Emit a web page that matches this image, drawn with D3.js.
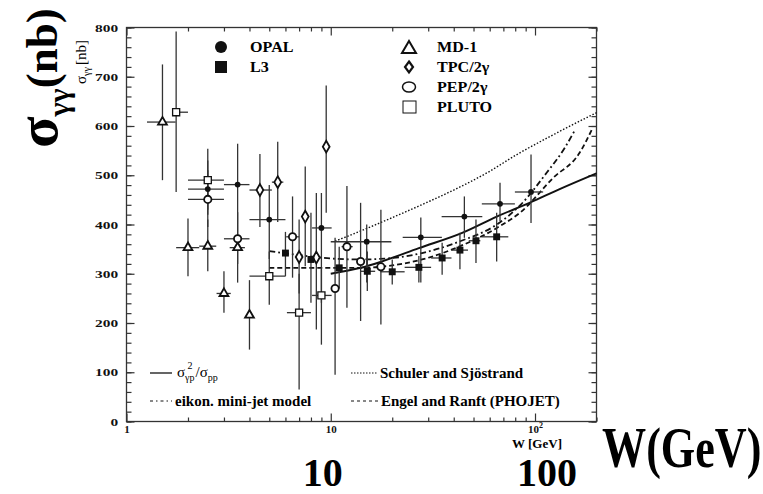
<!DOCTYPE html>
<html>
<head>
<meta charset="utf-8">
<script src="https://cdn.jsdelivr.net/npm/d3@7"></script>
</head>
<body style="margin:0;background:#fff">
<script>
// rows: W, sigma, sigma low, sigma high, W low, W high  (null = no horizontal bar)
const opal = [
  [2.5, 472, 420, 530, 2.0, 3.0],
  [3.5, 481, 400, 564, 3.0, 4.0],
  [5.0, 410, 330, 480, 4.0, 6.0],
  [9.0, 393, 241, 464, 8.1, 10.1],
  [15.0, 365, 282, 400, 10.0, 19.8],
  [27.6, 374, 282, 414, 22.5, 35.0],
  [45.1, 416, 373, 457, 34.9, 55.2],
  [67.4, 442, 407, 485, 54.9, 79.7],
  [95.6, 466, 403, 542, 79.7, 109.6]
];
const l3 = [
  [6.0, 342, 295, 385, null, null],
  [8.0, 329, 241, 424, null, null],
  [11.0, 312, 270, 355, null, null],
  [15.1, 305, 265, 345, 14.0, 16.5],
  [20.0, 304, 278, 329, 17.5, 23.0],
  [27.0, 313, 282, 336, 23.0, 31.0],
  [35.1, 332, 298, 363, 31.0, 39.0],
  [42.9, 348, 309, 383, 39.0, 47.0],
  [51.4, 367, 322, 410, 47.4, 54.0],
  [64.9, 375, 325, 424, 55.0, 74.0]
];
const md1 = [
  [1.5, 608, 490, 725, 1.26, 1.74],
  [2.0, 353, 295, 412, 1.75, 2.27],
  [2.5, 356, 305, 410, 2.27, 2.75],
  [3.0, 260, 221, 305, 2.76, 3.24],
  [3.5, 353, 282, 400, 3.2, 3.8],
  [4.0, 216, 146, 287, 3.85, 4.15]
];
const tpc = [
  [4.5, 470, 395, 543, 4.0, 5.15],
  [5.5, 486, 405, 568, 5.15, 5.86],
  [7.5, 416, 315, 518, null, null],
  [9.5, 558, 424, 682, null, null],
  [7.0, 334, 260, 410, null, null],
  [8.5, 333, 187, 464, 8.05, 9.0]
];
const pep = [
  [2.5, 451, 395, 510, 2.0, 3.0],
  [3.5, 371, 320, 425, 3.0, 4.0],
  [6.5, 375, 292, 457, 6.05, 7.0],
  [10.5, 270, 95, 373, null, null],
  [12.0, 355, 231, 478, 11.3, 12.8],
  [14.0, 325, 204, 444, null, null],
  [17.6, 314, 197, 430, null, null]
];
const pluto = [
  [1.75, 628, 466, 792, 1.68, 2.0],
  [2.5, 490, 430, 554, 2.0, 3.0],
  [5.0, 295, 237, 345, 4.0, 6.0],
  [7.0, 221, 65, 300, 6.1, 8.0],
  [9.0, 256, 156, 309, 8.1, 10.1]
];

// model curves
const ratioW = [10, 14, 17.5, 27, 44, 65, 94, 132, 200];
const ratioS = [300, 312, 324, 352, 383, 416, 444, 472, 504];
const schulerW = [10.5, 15, 20, 30, 40, 60, 80, 120, 200];
const schulerS = [366, 392, 414, 446, 470, 508, 540, 580, 627];
const eikonW = [5, 7, 10, 14, 20, 28, 43, 65, 85, 114, 140, 156];
const eikonS = [346, 338, 331, 329, 332, 342, 366, 400, 440, 505, 556, 590];
const phojetW = [5, 7, 10, 14, 20, 28, 43, 65, 85, 123, 165, 190];
const phojetS = [312, 312, 312, 312, 317, 329, 356, 393, 425, 495, 545, 593];

const yTicks = [0, 100, 200, 300, 400, 500, 600, 700, 800];
const xTicks = [1, 10, 100];
const xMinor = [2, 3, 4, 5, 6, 7, 8, 9, 20, 30, 40, 50, 60, 70, 80, 90, 200];

const serif = '"Liberation Serif", "Times New Roman", serif';
const width = 763, height = 494;
const x = d3.scaleLog().domain([1, 200]).range([126.5, 596.5]);
const y = d3.scaleLinear().domain([0, 800]).range([421.5, 27.5]);

const svg = d3.select('body').append('svg').attr('width', width).attr('height', height);

// frame
svg.append('rect')
  .attr('x', x(1)).attr('y', y(800))
  .attr('width', x(200) - x(1)).attr('height', y(0) - y(800))
  .attr('fill', 'none').attr('stroke', '#333').attr('stroke-width', 1.3);

const styleAxis = g => {
  g.select('.domain').remove();
  g.selectAll('line').attr('stroke', '#333').attr('stroke-width', 1.2);
};
const styleLabels = g => g.selectAll('text')
  .attr('fill', '#111')
  .style('font-size', '11px').style('font-weight', 'bold');

svg.append('g').attr('transform', `translate(${x(1)},0)`)
  .call(d3.axisLeft(y).tickValues(d3.range(0, 801, 20)).tickSize(-5).tickFormat(''))
  .call(styleAxis);
svg.append('g').attr('transform', `translate(${x(1)},0)`)
  .call(d3.axisLeft(y).tickValues(yTicks).tickSize(-8).tickPadding(6))
  .call(styleAxis)
  .call(styleLabels)
  .call(g => g.selectAll('text').attr('transform', 'scale(1.4,1)'));
svg.append('g').attr('transform', `translate(${x(200)},0)`)
  .call(d3.axisRight(y).tickValues(d3.range(0, 801, 20)).tickSize(-5).tickFormat(''))
  .call(styleAxis);
svg.append('g').attr('transform', `translate(${x(200)},0)`)
  .call(d3.axisRight(y).tickValues(yTicks).tickSize(-8).tickFormat(''))
  .call(styleAxis);

svg.append('g').attr('transform', `translate(0,${y(0)})`)
  .call(d3.axisBottom(x).tickValues(xMinor).tickSize(-4).tickFormat(''))
  .call(styleAxis);
svg.append('g').attr('transform', `translate(0,${y(0)})`)
  .call(d3.axisBottom(x).tickValues(xTicks).tickSize(-8).tickPadding(4).tickFormat(d => d === 100 ? '10' : String(d)))
  .call(styleAxis)
  .call(styleLabels)
  .call(g => g.selectAll('text').each(function (d) {
    if (d === 100) {
      d3.select(this).append('tspan').attr('dy', -5).style('font-size', '8px').text('2');
    }
  }));
svg.append('g').attr('transform', `translate(0,${y(800)})`)
  .call(d3.axisTop(x).tickValues(xMinor).tickSize(-4).tickFormat(''))
  .call(styleAxis);
svg.append('g').attr('transform', `translate(0,${y(800)})`)
  .call(d3.axisTop(x).tickValues(xTicks).tickSize(-8).tickFormat(''))
  .call(styleAxis);

// model curves
const line = d3.line().x(d => x(d[0])).y(d => y(d[1])).curve(d3.curveMonotoneX);
const zip = (a, b) => a.map((v, i) => [v, b[i]]);
const curves = [
  {w: ratioW, s: ratioS, dash: null, sw: 2},
  {w: schulerW, s: schulerS, dash: '1.5,1.8', sw: 1.4},
  {w: eikonW, s: eikonS, dash: '6,3,1.8,3', sw: 1.8},
  {w: phojetW, s: phojetS, dash: '5,3', sw: 1.8}
];
svg.append('g').selectAll('path').data(curves).enter().append('path')
  .attr('d', c => line(zip(c.w, c.s)))
  .attr('fill', 'none').attr('stroke', '#111')
  .attr('stroke-width', c => c.sw)
  .attr('stroke-dasharray', c => c.dash);

// error bars and markers
const sets = [
  {data: md1, sym: d3.symbolTriangle, size: 34, fill: '#fff', sw: 1.8},
  {data: pluto, sym: d3.symbolSquare, size: 50, fill: '#fff', sw: 1.3},
  {data: pep, sym: d3.symbolCircle, size: 42, fill: '#fff', sw: 1.8},
  {data: tpc, sym: d3.symbolDiamond, size: 40, fill: '#fff', sw: 1.8},
  {data: l3, sym: d3.symbolSquare, size: 48, fill: '#111', sw: 0},
  {data: opal, sym: d3.symbolCircle, size: 26, fill: '#111', sw: 0}
];
const bars = svg.append('g').attr('stroke', '#333').attr('stroke-width', 1.3);
sets.forEach(s => {
  s.data.forEach(d => {
    bars.append('line').attr('x1', x(d[0])).attr('x2', x(d[0])).attr('y1', y(d[2])).attr('y2', y(d[3]));
    if (d[4] !== null) {
      bars.append('line').attr('x1', x(d[4])).attr('x2', x(d[5])).attr('y1', y(d[1])).attr('y2', y(d[1]));
    }
  });
});
sets.forEach(s => {
  svg.append('g').selectAll('path').data(s.data).enter().append('path')
    .attr('transform', d => `translate(${x(d[0])},${y(d[1])})`)
    .attr('d', d3.symbol().type(s.sym).size(s.size))
    .attr('fill', s.fill).attr('stroke', '#111').attr('stroke-width', s.sw);
});

// experiment legend
const leg = svg.append('g');
leg.append('circle').attr('cx', 221).attr('cy', 47).attr('r', 6).attr('fill', '#111');
leg.append('rect').attr('x', 215).attr('y', 61).attr('width', 12).attr('height', 12).attr('fill', '#111');
leg.append('path').attr('transform', 'translate(409,47)').attr('d', 'M0,-6L7,6L-7,6Z')
  .attr('fill', 'none').attr('stroke', '#111').attr('stroke-width', 2);
leg.append('path').attr('transform', 'translate(409,67)').attr('d', 'M0,-5.5L4,0L0,5.5L-4,0Z')
  .attr('fill', 'none').attr('stroke', '#111').attr('stroke-width', 2.2);
leg.append('ellipse').attr('cx', 409).attr('cy', 87).attr('rx', 6.5).attr('ry', 5)
  .attr('fill', 'none').attr('stroke', '#111').attr('stroke-width', 1.5);
leg.append('rect').attr('x', 403).attr('y', 101).attr('width', 13).attr('height', 12)
  .attr('fill', 'none').attr('stroke', '#111').attr('stroke-width', 1);
const legText = (tx, ty, s) => leg.append('text').attr('x', tx).attr('y', ty)
  .style('font-size', '14px').style('font-weight', 'bold')
  .attr('transform', `translate(${-tx * 0.15},0) scale(1.15,1)`).text(s);
legText(250, 52, 'OPAL');
legText(250, 72, 'L3');
legText(437, 52, 'MD-1');
legText(437, 72, 'TPC/2\u03b3');
legText(437, 92, 'PEP/2\u03b3');
legText(437, 112, 'PLUTO');

// model legend
const ml = svg.append('g');
const sample = (x1, x2, yy, dash, sw) => ml.append('line')
  .attr('x1', x1).attr('x2', x2).attr('y1', yy).attr('y2', yy)
  .attr('stroke', '#111').attr('stroke-width', sw).attr('stroke-dasharray', dash);
sample(150, 172, 373, null, 1.3);
sample(351, 378, 373, '1.5,1.5', 1);
sample(150, 172, 401, '3,3,1.5,3', 1);
sample(351, 378, 401, '3,3', 1);
const t1 = ml.append('text').attr('x', 177).attr('y', 377).style('font-size', '15px');
t1.append('tspan').text('\u03c3');
t1.append('tspan').style('font-size', '10px').attr('dy', 4).text('\u03b3p');
t1.append('tspan').style('font-size', '10px').attr('dx', -7).attr('dy', -12).text('2');
t1.append('tspan').attr('dy', 8).attr('dx', 3).text('/\u03c3');
t1.append('tspan').style('font-size', '10px').attr('dy', 4).text('pp');
const mlText = (tx, ty, s) => ml.append('text').attr('x', tx).attr('y', ty)
  .style('font-size', '15px').style('font-weight', 'bold').text(s);
mlText(380, 378, 'Schuler and Sj\u00f6strand');
mlText(175, 406, 'eikon. mini-jet model');
mlText(381, 406, 'Engel and Ranft (PHOJET)');

// axis titles
const yl = svg.append('text').attr('transform', 'translate(86,84) rotate(-90)').style('font-size', '15px');
yl.append('tspan').text('\u03c3');
yl.append('tspan').style('font-size', '10px').attr('dy', 4).text('\u03b3\u03b3');
yl.append('tspan').attr('dy', -4).attr('dx', 2).text('[nb]');

svg.append('text').attr('x', 537).attr('y', 447.5).attr('text-anchor', 'middle')
  .style('font-size', '13px').style('font-weight', 'bold').text('W [GeV]');

// big annotations
const big = svg.append('text').attr('transform', 'translate(57,148) rotate(-90)').style('font-weight', 'bold');
big.append('tspan').style('font-size', '58px').text('\u03c3');
big.append('tspan').style('font-size', '30px').attr('dy', 12).text('\u03b3\u03b3');
big.append('tspan').style('font-size', '45px').attr('dy', -12).text('(nb)');

svg.append('text').attr('transform', 'translate(602,467) scale(0.92,1.2)')
  .style('font-size', '48px').style('font-weight', 'bold').text('W(GeV)');
svg.append('text').attr('x', x(10) - 8).attr('y', 486).attr('text-anchor', 'middle')
  .style('font-size', '40px').style('font-weight', 'bold').text('10');
svg.append('text').attr('x', x(100) + 12).attr('y', 486).attr('text-anchor', 'middle')
  .style('font-size', '40px').style('font-weight', 'bold').text('100');

// every text in the serif face of the original
svg.selectAll('text').style('font-family', serif);
</script>
</body>
</html>
